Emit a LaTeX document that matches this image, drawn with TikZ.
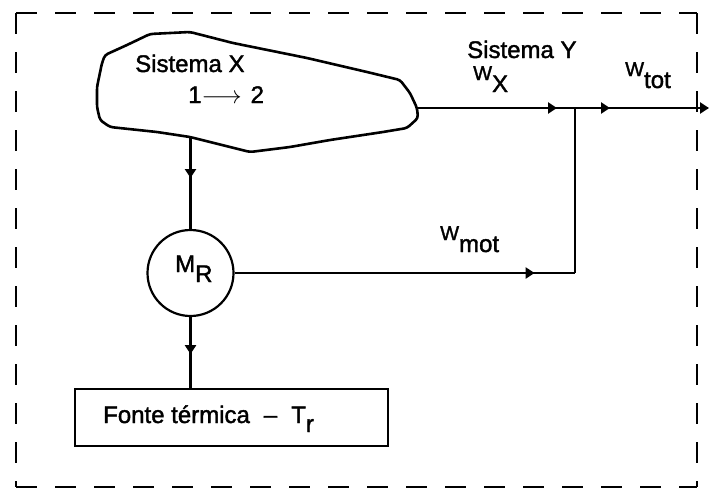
\documentclass[tikz,border=0pt]{standalone}
\usepackage{fontspec}
\setmainfont{Liberation Sans}[FakeBold=1.6]
\usetikzlibrary{decorations.markings,arrows.meta}
\newcommand\wsub[2]{{\fontsize{20}{20}\selectfont #1}\raisebox{-12pt}{#2}}
\tikzset{
  wire/.style={line width=2.6pt},
  tipat/.style={postaction={decorate},decoration={markings,mark=at position #1 with {\arrow{Triangle[length=9pt,width=11pt]}}}},
  endtip/.style={-{Triangle[length=9pt,width=11pt]}},
  frame/.style={line width=2.8pt,dash pattern=on 21pt off 18pt},
  lbl/.style={inner sep=0pt,font=\fontsize{24}{28}\selectfont},
  circ/.style={draw,circle,line width=2.2pt,minimum size=86pt,inner sep=0pt},
  boxnode/.style={draw,rectangle,line width=2.6pt,minimum width=313pt,minimum height=57pt,inner sep=0pt}
}
\begin{document}
\begin{tikzpicture}[x=1pt,y=-1pt]
\useasboundingbox (0,0) rectangle (709,488);
% dashed frame
\draw[frame] (16,13) -- (697,13);
\draw[frame] (697,13) -- (697,487);
\draw[frame] (16,13) -- (16,487);
\draw[frame] (16,487) -- (697,487);
% blob (Sistema X)
\draw[line width=2.6pt,rounded corners=3pt]
 (105,55) -- (127,45) -- (150,34) -- (190,32) -- (233,43) -- (307,58) -- (367,72) -- (400,80)
 -- (410,93) -- (417,108) -- (418,118) -- (407,128) -- (383,132) -- (330,140) -- (290,147)
 -- (250,152) -- (230,147) -- (190,137) -- (157,132) -- (110,127) -- (100,120) -- (97,107)
 -- (97,87) -- (102,63) -- cycle;
\coordinate (xr) at (418,108);
\coordinate (xb) at (190.5,137);
\coordinate (j) at (575,108);
\coordinate (j2) at (575,273);
\coordinate (wend) at (709,108);
\node[circ] (mr) at (190.5,273) {};
\node[boxnode] (ft) at (231.5,417.5) {};
% connectors
\draw[wire,tipat=41pt] (xb) -- (mr.north);
\draw[wire,tipat=37pt] (mr.south) -- (mr.south |- ft.north);
\draw[wire,tipat=300pt] (mr.east) -- (j2);
\draw[wire] (j2) -- (j);
\draw[wire,tipat=139pt] (xr) -- (j);
\draw[wire,tipat=35pt,endtip] (j) -- (wend);
% labels
\node[lbl,anchor=base west] (tx) at (135,72) {Sistema X};
\node[lbl,anchor=base west] (t12) at (188,103) {1$\longrightarrow$\hspace{9pt}2};
\node[lbl,anchor=base west] (ty) at (467,58) {Sistema Y};
\node[lbl,anchor=base west] (twx) at (473,80) {\wsub{W}{X}};
\node[lbl,anchor=base west] (twt) at (625,76) {\wsub{W}{tot}};
\node[lbl,anchor=base west] (twm) at (440,240) {\wsub{W}{mot}};
\node[lbl,anchor=base west] (tmr) at (175,272) {M\raisebox{-10pt}{R}};
\node[lbl,anchor=base west] (tft) at (103,423) {Fonte térmica\hspace{14pt}–\hspace{14pt}T\raisebox{-9pt}{r}};
\end{tikzpicture}
\end{document}
